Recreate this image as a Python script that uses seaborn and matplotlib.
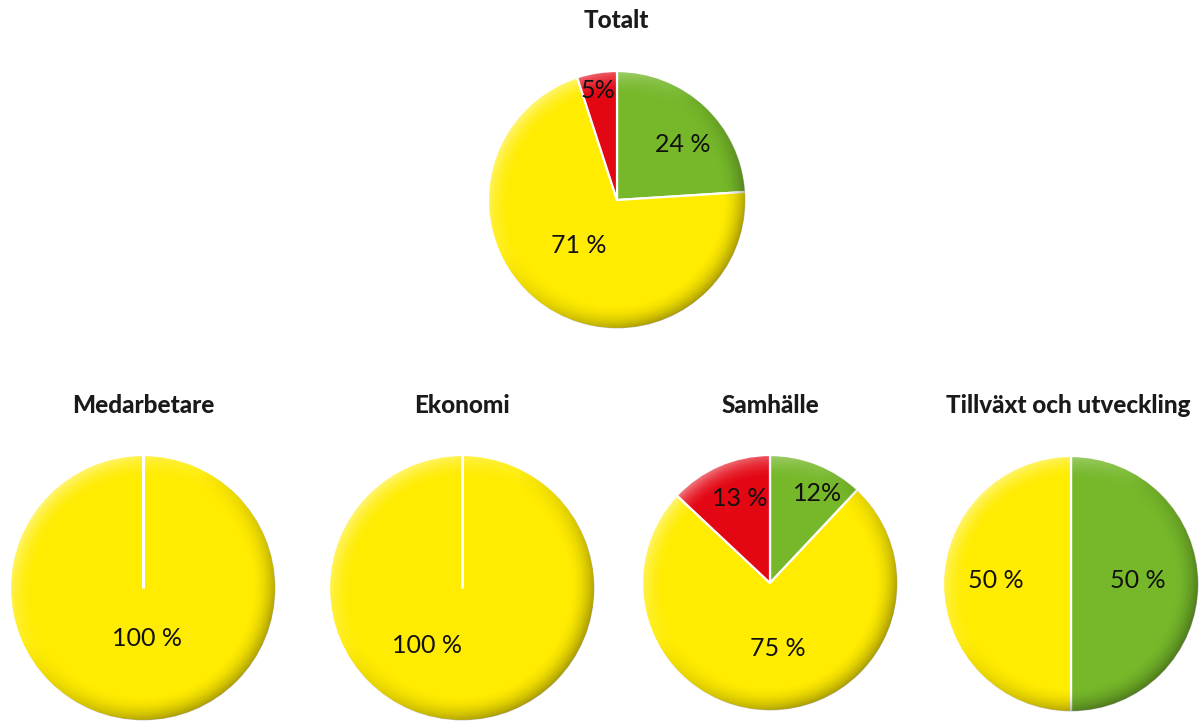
import numpy as np
import matplotlib
matplotlib.use("Agg")
import matplotlib.pyplot as plt
import seaborn as sns
from matplotlib.patches import Circle

# ---- data ----
titles = ["Totalt", "Medarbetare", "Ekonomi", "Samhälle", "Tillväxt och utveckling"]
categories = ["Grön", "Gul", "Röd"]
green_vals = [24, 0, 0, 12, 50]
yellow_vals = [71, 100, 100, 75, 50]
red_vals = [5, 0, 0, 13, 0]
label_texts = [["24 %", "71 %", "5%"], ["", "100 %", ""], ["", "100 %", ""],
               ["12%", "75 %", "13 %"], ["50 %", "50 %", ""]]

# ---- layout / style (pixels) ----
W, H = 1200, 722
centers = [(617, 200), (143, 588), (462, 588), (770, 583), (1071, 584)]
radii = [129, 133, 133, 128, 128]
title_pos = [(616, 20), (143, 406), (462, 406), (770, 406), (1068, 406)]
# label offsets in units of radius (dx, dy with y up)
label_off = [[(0.51, 0.43), (-0.30, -0.35), (-0.15, 0.85)],
             [None, (0.03, -0.38), None],
             [None, (-0.26, -0.43), None],
             [(0.37, 0.70), (0.06, -0.51), (-0.24, 0.66)],
             [(0.52, 0.03), (-0.59, 0.03), None]]

sns.set_theme(style="white")
palette = ["#76B82A", "#FFEC00", "#E30613"]
plt.rcParams["font.family"] = ["Lato", "DejaVu Sans"]

fig = plt.figure(figsize=(W / 100, H / 100), dpi=100)
fig.patch.set_facecolor("white")

# shading image
n = 500
g = np.linspace(-1, 1, n)
X, Y = np.meshgrid(g, g[::-1])
RR = np.sqrt(X ** 2 + Y ** 2) + 1e-9
edge = np.clip((RR - 0.80) / 0.20, 0, 1) ** 2
d = (X - Y) / np.sqrt(2) / RR
dark = np.zeros((n, n, 4))
dark[..., 3] = edge * 0.30 * np.clip(0.35 + d, 0, 1.2)
light = np.ones((n, n, 4))
light[..., 3] = edge * 0.55 * np.clip(-d - 0.1, 0, 1)

for i in range(len(titles)):
    cx, cy = centers[i]
    r = radii[i]
    m = 1.03
    ax = fig.add_axes([(cx - r * m) / W, (H - cy - r * m) / H, 2 * r * m / W, 2 * r * m / H])
    vals = [green_vals[i], yellow_vals[i], red_vals[i]]
    idx = [k for k, v in enumerate(vals) if v > 0]
    wedges, _ = ax.pie([vals[k] for k in idx], colors=[palette[k] for k in idx],
                       startangle=90, counterclock=False, radius=1,
                       wedgeprops=dict(edgecolor="white", linewidth=1.6))
    ax.set_xlim(-m, m)
    ax.set_ylim(-m, m)
    ax.set_aspect("equal")
    ax.axis("off")
    # a full-circle wedge still shows its radial seam in the reference
    for w in wedges:
        if abs(w.theta2 - w.theta1) >= 359.9:
            t = np.deg2rad(w.theta2)
            ax.plot([0, np.cos(t)], [0, np.sin(t)], color="white", lw=2.2,
                    solid_capstyle="butt", zorder=4)
    clip = Circle((0, 0), 0.995, transform=ax.transData)
    for img in (dark, light):
        im = ax.imshow(img, extent=(-1, 1, -1, 1), zorder=3, interpolation="bilinear")
        im.set_clip_path(clip)
    for k in idx:
        off = label_off[i][k]
        txt = label_texts[i][k]
        if off and txt:
            ax.text(off[0], off[1], txt, ha="center", va="center", fontsize=18,
                    color="#111111", zorder=5)
    tx, ty = title_pos[i]
    fig.text(tx / W, 1 - ty / H, titles[i], ha="center", va="center",
             fontsize=17.5, fontweight="black", color="#1a1a1a")

fig.savefig("out.png", dpi=100, facecolor="white")
